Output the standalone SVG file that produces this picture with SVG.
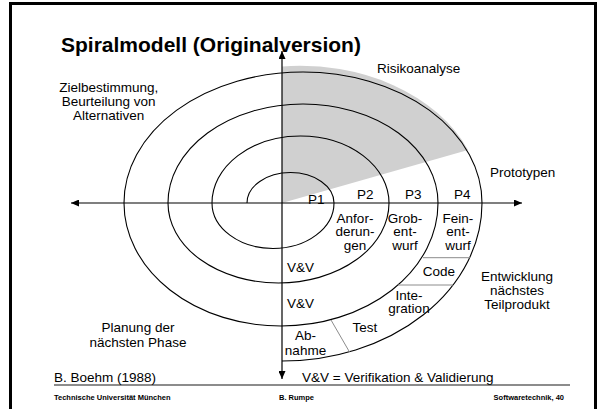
<svg xmlns="http://www.w3.org/2000/svg" width="599" height="409" viewBox="0 0 599 409">
<style>
text{font-family:"Liberation Sans",Arial,sans-serif;font-size:13.5px;fill:#000}
.c{text-anchor:middle}
.b{font-weight:bold}
.f{font-size:7.5px;font-weight:bold}
.ax{stroke:#000;stroke-width:1.2;fill:none}
.sp{stroke:#000;stroke-width:1.1;fill:none}
.sep{stroke:#8c8c8c;stroke-width:1;fill:none}
</style>
<defs>
<marker id="ah" markerWidth="8" markerHeight="7" refX="8" refY="3.5" orient="auto-start-reverse" markerUnits="userSpaceOnUse">
<path d="M0,0 L8,3.5 L0,7 z" fill="#000"/>
</marker>
</defs>
<rect x="0" y="0" width="599" height="409" fill="#fff"/>
<rect x="10.5" y="3.5" width="585" height="420" fill="none" stroke="#000" stroke-width="3"/>
<g id="risk-area">
<path d="M282,203 L282,66.5 A182,137 0 0 1 468,150 Z" fill="#d0d0d0"/>
</g>
<g id="connectors">
<line class="ax" x1="71" y1="203" x2="522" y2="203" marker-start="url(#ah)" marker-end="url(#ah)"/>
<line class="ax" x1="282" y1="51" x2="282" y2="379" marker-start="url(#ah)" marker-end="url(#ah)"/>
<path class="sp" d="M247,203 A43.5,30.5 0 0 1 334,203 A61,45.5 0 0 1 212,203 A88.5,67 0 0 1 389,203 A110.5,80 0 0 1 168,203 A135,99 0 0 1 438,203 A157,123 0 0 1 124,203 A179,131 0 0 1 482,203 A200,158 0 0 1 282,361"/>
<line class="sep" x1="423" y1="257.7" x2="470" y2="257.7"/>
<line class="sep" x1="398" y1="285" x2="453" y2="285"/>
<line class="sep" x1="331" y1="320" x2="349.5" y2="352"/>
<line x1="54" y1="385" x2="570" y2="385" stroke="#8c8c8c" stroke-width="2"/>
</g>
<g id="title"><text class="b" x="61" y="52" style="font-size:21px">Spiralmodell (Originalversion)</text></g>
<g id="risikoanalyse"><text x="377" y="72.5">Risikoanalyse</text></g>
<g id="zielbestimmung">
<text class="c" x="108.7" y="91.5">Zielbestimmung,</text>
<text class="c" x="108.7" y="105.5">Beurteilung von</text>
<text class="c" x="108.7" y="119.5">Alternativen</text>
</g>
<g id="planung">
<text class="c" x="138" y="332.3">Planung der</text>
<text class="c" x="138" y="346.7">nächsten Phase</text>
</g>
<g id="prototypen"><text x="490" y="177">Prototypen</text></g>
<g id="entwicklung">
<text class="c" x="517" y="280.5">Entwicklung</text>
<text class="c" x="517" y="294.5">nächstes</text>
<text class="c" x="517" y="308.5">Teilprodukt</text>
</g>
<g id="p1"><text x="308" y="204">P1</text></g>
<g id="p2"><text x="357" y="199">P2</text></g>
<g id="p3"><text x="405" y="199">P3</text></g>
<g id="p4"><text x="454" y="199">P4</text></g>
<g id="anforderungen">
<text class="c" x="355" y="222.5">Anfor-</text>
<text class="c" x="355" y="236">derun-</text>
<text class="c" x="355" y="249.5">gen</text>
</g>
<g id="grobentwurf">
<text class="c" x="405" y="222.5">Grob-</text>
<text class="c" x="405" y="236">ent-</text>
<text class="c" x="405" y="249.5">wurf</text>
</g>
<g id="feinentwurf">
<text class="c" x="458" y="222.5">Fein-</text>
<text class="c" x="458" y="236">ent-</text>
<text class="c" x="458" y="249.5">wurf</text>
</g>
<g id="code"><text class="c" x="439" y="276">Code</text></g>
<g id="integration">
<text class="c" x="409" y="299.5">Inte-</text>
<text class="c" x="409" y="313">gration</text>
</g>
<g id="test"><text class="c" x="365" y="331.5">Test</text></g>
<g id="abnahme">
<text class="c" x="305.5" y="340">Ab-</text>
<text class="c" x="305.5" y="354.5">nahme</text>
</g>
<g id="vv1"><text x="287" y="271.5">V&amp;V</text></g>
<g id="vv2"><text x="287" y="308.3">V&amp;V</text></g>
<g id="boehm"><text x="54" y="381.7">B. Boehm (1988)</text></g>
<g id="legend"><text x="302" y="382">V&amp;V = Verifikation &amp; Validierung</text></g>
<g id="footer">
<text class="f" x="54" y="399.5">Technische Universität München</text>
<text class="f" x="279" y="399.5">B. Rumpe</text>
<text class="f" x="564" y="399.5" text-anchor="end">Softwaretechnik, 40</text>
</g>
</svg>
